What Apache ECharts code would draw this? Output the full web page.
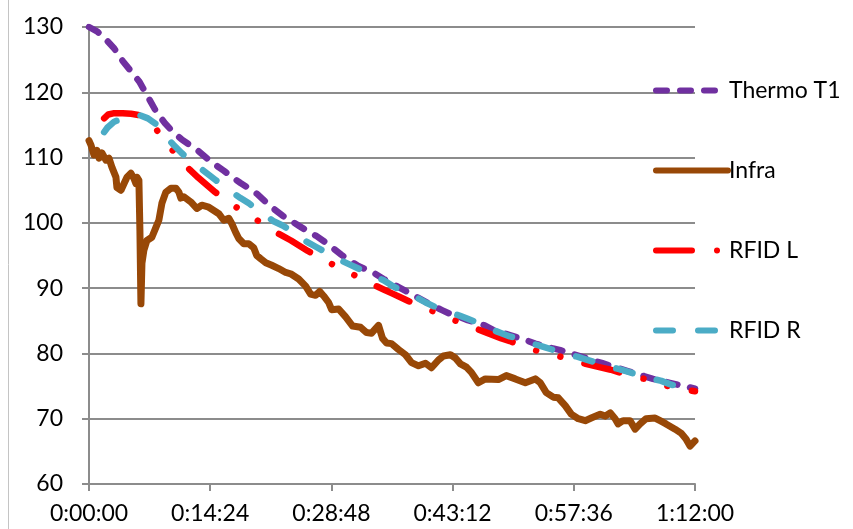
<!DOCTYPE html>
<html>
<head>
<meta charset="utf-8">
<script src="https://cdn.jsdelivr.net/npm/echarts@6/dist/echarts.min.js"></script>
<style>
  html, body { margin: 0; padding: 0; background: #fff; }
  #myChart { width: 853px; height: 529px; }
</style>
</head>
<body>
<div id="myChart"></div>
<script>
// time in minutes, temperatures
var thermoT = [0,1,2,3,4,5,6,7,8,9,10,11,12,13,14,15,16,17,18,19,20,21,22,23,24,25,26,27,28,29,30,31,32,33,34,35,36,37,38,39,40,41,42,43,44,45,46,47,48,49,50,51,52,53,54,55,56,57,58,59,60,61,62,63,64,65,66,67,68,69,70,71,72];
var thermoV = [130,129.3,128.1,126.7,124.8,123.2,121.6,119.3,117,115.3,113.9,112.8,111.9,111,109.9,108.9,108,107,106.1,105.3,104.4,103.2,102.1,101.1,100.3,99.5,98.7,98,97.1,96.1,95.1,94.2,93.4,92.8,92.2,91.4,90.7,90,89.3,88.6,87.9,87.2,86.6,86,85.6,85.1,84.7,84.3,83.6,83.2,82.8,82.4,82,81.5,81.2,80.8,80.5,80.1,79.7,79.3,78.9,78.5,78.1,77.7,77.3,76.9,76.5,76.1,75.8,75.5,75.2,74.9,74.6];

var infraT = [0,0.24,0.59,0.95,1.19,1.54,2.02,2.37,2.73,3.2,3.32,3.8,4.15,4.51,4.98,5.34,5.58,5.69,5.93,6.05,6.17,6.29,6.52,6.88,7.47,7.95,8.3,8.66,9.13,9.73,10.32,10.68,10.91,11.27,12.1,12.81,13.4,14.23,14.83,15.42,16.01,16.61,16.96,17.44,17.79,18.39,18.98,19.57,19.93,20.4,21,21.71,22.54,23.37,23.96,24.32,24.91,25.74,26.33,26.93,27.4,27.88,28.47,28.83,29.66,30.49,31.32,32.27,32.98,33.57,34.4,34.88,35.35,35.94,36.77,37.6,38.32,39.15,39.98,40.69,41.52,42.11,42.94,43.53,44.13,44.84,45.43,46.26,47.09,48.64,49.58,50.65,51.84,53.02,53.62,54.33,55.16,55.75,56.58,57.3,58.13,58.96,59.67,60.74,61.33,61.92,62.51,62.87,63.46,64.29,64.89,65.48,66.19,67.26,67.85,68.56,69.63,70.34,70.93,71.41,71.77,72];
var infraV = [112.6,111.9,110.4,111.1,109.9,110.7,109.6,109.9,108.5,107,105.4,105,106,107,107.6,106.8,106,107,106.5,98.8,87.6,93.8,95.8,97.3,97.8,99.3,100.4,103,104.7,105.3,105.3,104.7,103.8,104,103.2,102.2,102.7,102.4,101.9,101.4,100.4,100.7,99.9,98.5,97.6,96.8,96.8,96.2,95,94.5,93.9,93.5,93,92.4,92.2,91.9,91.4,90.3,89.1,88.9,89.5,88.8,87.8,86.7,86.8,85.6,84.2,84,83.2,83.1,84.3,82.3,81.6,81.5,80.6,79.8,78.6,78.1,78.5,77.8,79,79.6,79.8,79.3,78.4,77.9,77.1,75.5,76.1,76,76.6,76.1,75.5,76.1,75.5,74,73.3,73.2,72,70.7,70,69.7,70.1,70.7,70.4,70.9,70,69.2,69.7,69.7,68.4,69.2,70,70.1,69.7,69.2,68.4,67.8,66.9,65.8,66.3,66.6];

var rfidLT = [1.8,2.3,3,4,5,6,6.7,7,8,9,10,11,12,13,14,15,16,17,18,19,20,21,22,23,24,25,26,27,28,29,30,31,32,33,34,35,36,37,38,39,40,41,42,43,44,45,46,47,48,49,50,51,52,53,54,55,56,57,58,59,60,61,62,63,64,65,66,67,68,69,70,71,72];
var rfidLV = [116,116.6,116.8,116.8,116.7,116.5,116,115.6,114.3,112.6,111,109.5,108.1,106.9,105.8,104.7,103.7,102.8,102,101.3,100.4,99.5,98.7,98,97.3,96.5,95.7,95,94.3,93.6,92.9,92.3,91.7,91.1,90.4,89.8,89.2,88.6,88,87.5,86.9,86.4,85.9,85.3,84.8,84.3,83.8,83.3,82.8,82.3,81.9,81.4,80.9,80.5,80.1,79.8,79.5,79.1,78.8,78.4,78.1,77.8,77.5,77.1,76.8,76.4,76.1,75.7,75.3,74.9,74.6,74.4,74.2];

var rfidRT = [1.8,2.2,3,4,5,6,7,8,9,10,11,12,13,14,15,16,17,18,19,20,21,22,23,24,25,26,27,28,29,30,31,32,33,34,35,36,37,38,39,40,41,42,43,44,45,46,47,48,49,50,51,52,53,54,55,56,57,58,59,60,61,62,63,64,65,66,67,68,69,70,71,72];
var rfidRV = [113.9,114.6,115.5,116,116.4,116.5,116,115.1,113.4,112,110.7,109.5,108.6,107.6,106.6,105.6,104.7,103.8,103,102,101.1,100.2,99.6,98.8,97.9,97,96.3,95.6,94.9,94.2,93.6,93,92.4,91.8,91.2,90.4,89.7,89,88.5,87.8,87.2,86.6,86.2,85.8,85.3,84.8,84.2,83.6,83.1,82.6,82.3,81.8,81.4,81,80.6,80.1,79.8,79.5,79.1,78.7,78.3,77.9,77.6,77.2,76.8,76.5,76.1,75.8,75.3,74.9,74.6,74.4];

var xTickLabels = ['0:00:00','0:14:24','0:28:48','0:43:12','0:57:36','1:12:00'];
var yMin = 60, yMax = 130, yStep = 10;

function pairs(ts, vs) {
  return ts.map(function (t, i) { return [t * 60, vs[i]]; });
}

var font = 'Lato, "Liberation Sans", sans-serif';
var gridColor = '#8c8c8c';

var colors = { 'Thermo T1': '#7030A0', 'Infra': '#984807', 'RFID L': '#FF0000', 'RFID R': '#4BACC6' };
var dashes = {
  'Thermo T1': [11, 13],
  'Infra': 'solid',
  'RFID L': [36, 25, 0.01, 25, 0.01, 25],
  'RFID R': [17, 25]
};
var names = ['Thermo T1', 'Infra', 'RFID L', 'RFID R'];

function lineStyleOf(name, w) {
  return {
    color: colors[name],
    width: w,
    type: dashes[name],
    cap: 'round',
    join: 'round'
  };
}

function makeSeries(name, ts, vs) {
  return {
    name: name, type: 'line', symbol: 'none', showSymbol: false,
    data: pairs(ts, vs),
    itemStyle: { color: colors[name] },
    lineStyle: lineStyleOf(name, name === 'Infra' ? 7 : 6.5),
    emphasis: { disabled: true }
  };
}

var myChart = echarts.init(document.getElementById('myChart'));
myChart.setOption({
  animation: false,
  textStyle: { fontFamily: font },
  grid: { left: 89, right: 158, top: 27, bottom: 45 },
  legend: {
    orient: 'vertical',
    left: 648,
    top: 74,
    itemWidth: 72,
    itemHeight: 26,
    itemGap: 57,
    itemStyle: { opacity: 0 },
    textStyle: { fontFamily: font, fontSize: 23, color: '#000', padding: [0, 0, 0, -4] },
    data: names.map(function (n) {
      return { name: n, lineStyle: lineStyleOf(n, 6), itemStyle: { opacity: 0 } };
    })
  },
  graphic: [{
    type: 'line',
    shape: { x1: 8.5, y1: 0, x2: 8.5, y2: 529 },
    style: { stroke: '#c4c4c4', lineWidth: 1 }
  }],
  xAxis: {
    type: 'value',
    min: 0,
    max: 4320,
    interval: 864,
    splitLine: { show: false },
    axisLine: { lineStyle: { color: gridColor, width: 2 } },
    axisTick: { show: true, length: 7, lineStyle: { color: gridColor, width: 2 } },
    axisLabel: {
      margin: 18,
      fontSize: 23,
      color: '#000',
      fontFamily: font,
      formatter: function (v) { return xTickLabels[Math.round(v / 864)]; }
    }
  },
  yAxis: {
    type: 'value',
    min: yMin,
    max: yMax,
    interval: yStep,
    axisLine: { show: true, lineStyle: { color: gridColor, width: 2 } },
    axisTick: { show: true, length: 7, lineStyle: { color: gridColor, width: 2 } },
    splitLine: { lineStyle: { color: gridColor, width: 2 } },
    axisLabel: { margin: 26, fontSize: 23, color: '#000', fontFamily: font }
  },
  series: [
    makeSeries('Thermo T1', thermoT, thermoV),
    makeSeries('Infra', infraT, infraV),
    makeSeries('RFID L', rfidLT, rfidLV),
    makeSeries('RFID R', rfidRT, rfidRV)
  ]
});
</script>
</body>
</html>
